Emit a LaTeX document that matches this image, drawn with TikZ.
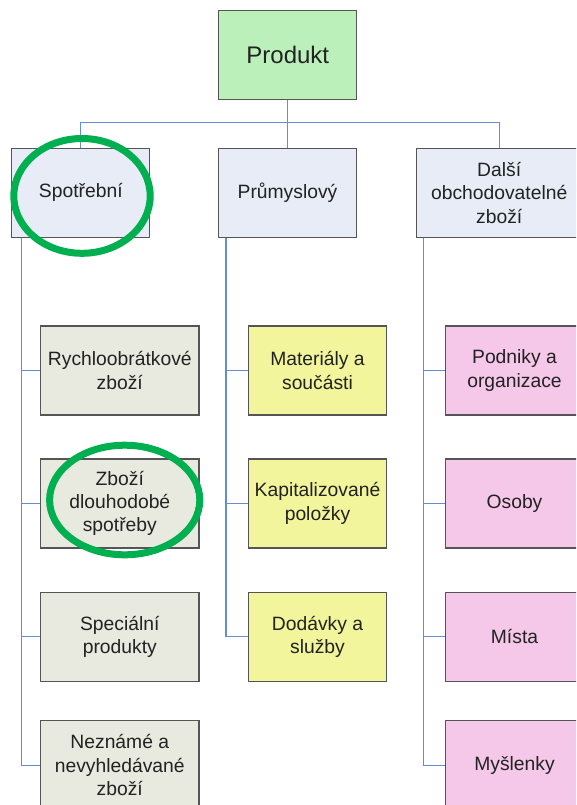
\documentclass[tikz,border=0pt]{standalone}
\usepackage{fontspec}
\setmainfont{Liberation Sans}
\definecolor{boxline}{RGB}{85,85,85}
\definecolor{linkblue}{RGB}{102,140,212}
\definecolor{rootfill}{RGB}{187,240,187}
\definecolor{catfill}{RGB}{232,236,247}
\definecolor{greyfill}{RGB}{233,234,223}
\definecolor{yellowfill}{RGB}{242,245,155}
\definecolor{pinkfill}{RGB}{245,199,232}
\definecolor{markgreen}{RGB}{0,176,80}
\definecolor{txt}{RGB}{34,34,34}
\tikzset{
  box/.style={draw=boxline, line width=1.3pt, minimum width=138pt, minimum height=89pt,
    inner sep=0pt, align=center, text=txt, font=\fontsize{19.3}{23.3}\selectfont},
  rootbox/.style={box, fill=rootfill, font=\fontsize{24}{28}\selectfont},
  catbox/.style={box, fill=catfill},
  greybox/.style={box, fill=greyfill, minimum width=158.5pt},
  yellowbox/.style={box, fill=yellowfill},
  pinkbox/.style={box, fill=pinkfill},
  link/.style={draw=linkblue, line width=1.2pt},
  ring/.style={draw=markgreen, line width=7pt}
}
\begin{document}
\begin{tikzpicture}[x=1pt, y=-1pt]
\useasboundingbox (0,0) rectangle (576,805);
\fill[white] (0,0) rectangle (576,805);
\clip (0,0) rectangle (576,805);

% top level and categories
\node[rootbox] (prod) at (287.8,55) {Produkt};
\node[catbox] (spot) at (80.8,192.8) {Spotřební};
\node[catbox] (prum) at (287.5,192.8) {Průmyslový};
\node[catbox, minimum width=166pt] (dalsi) at (499.2,192.8) {Další\\obchodovatelné\\zboží};

% consumer goods
\node[greybox] (g1) at (119.8,370.5) {Rychloobrátkové\\zboží};
\node[greybox] (g2) at (119.8,503.5) {Zboží\\dlouhodobé\\spotřeby};
\node[greybox] (g3) at (119.8,636.7) {Speciální\\produkty};
\node[greybox] (g4) at (119.8,765.2) {Neznámé a\\nevyhledávané\\zboží};

% industrial goods
\node[yellowbox] (y1) at (317.5,370.5) {Materiály a\\součásti};
\node[yellowbox] (y2) at (317.5,503.5) {Kapitalizované\\položky};
\node[yellowbox] (y3) at (317.5,636.7) {Dodávky a\\služby};

% other marketable goods
\node[pinkbox] (p1) at (514.5,370.5) {Podniky a\\organizace};
\node[pinkbox] (p2) at (514.5,503.5) {Osoby};
\node[pinkbox] (p3) at (514.5,636.7) {Místa};
\node[pinkbox] (p4) at (514.5,765.2) {Myšlenky};

% connectors
\coordinate (bus) at (0,122.7);
\draw[link] (prod.south) -- (prod.south |- bus) -| (spot.north);
\draw[link] (prod.south) -- (prod.south |- bus) -| (prum.north);
\draw[link] (prod.south) -- (prod.south |- bus) -| (dalsi.north);

\foreach \g in {g1,g2,g3,g4}
  \draw[link] ([xshift=10.2pt]spot.south west) |- (\g.west);
\foreach \y in {y1,y2,y3}
  \draw[link] ([xshift=8.1pt]prum.south west) |- (\y.west);
\foreach \p in {p1,p2,p3,p4}
  \draw[link] ([xshift=8.1pt]dalsi.south west) |- (\p.west);

% highlight rings
\draw[ring] (82,195.9) ellipse [x radius=68.2, y radius=57.4];
\draw[ring] (124.7,500) ellipse [x radius=75.1, y radius=54.8];
\end{tikzpicture}
\end{document}
